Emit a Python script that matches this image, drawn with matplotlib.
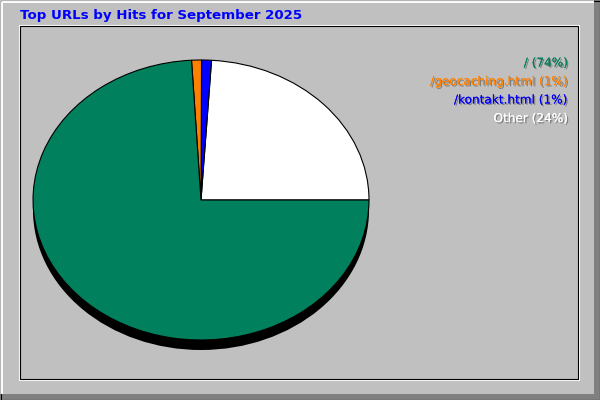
import matplotlib
matplotlib.use("Agg")
import matplotlib.pyplot as plt
import matplotlib.patheffects as pe
from matplotlib.patches import Rectangle, Ellipse

# data
urls = ["/", "/geocaching.html", "/kontakt.html", "Other"]
percents = [74.1, 0.95, 0.95, 24.0]
labels = ["/ (74%)", "/geocaching.html (1%)", "/kontakt.html (1%)", "Other (24%)"]
colors = ["#00805c", "#ff8000", "#0000ff", "#ffffff"]
title = "Top URLs by Hits for September 2025"

W, H = 600, 400
fig = plt.figure(figsize=(6, 4), dpi=100)
fig.patch.set_facecolor("#c0c0c0")

# overlay axes in pixel coordinates for frame and text
bg = fig.add_axes([0, 0, 1, 1])
bg.set_xlim(0, W)
bg.set_ylim(H, 0)
bg.axis("off")

def box(x0, y0, x1, y1, color, lw=1.0):
    bg.add_patch(Rectangle((x0, y0), x1 - x0, y1 - y0, fill=False,
                           edgecolor=color, linewidth=lw))

# outer bevel
bg.add_patch(Rectangle((0, 393.5), W, 6.5, color="#808080", lw=0))
bg.add_patch(Rectangle((593.5, 0), 6.5, H, color="#808080", lw=0))
bg.plot([1.5, 1.5, 593], [393, 1.5, 1.5], color="white", lw=1.4)
box(0.5, 0.5, 599.5, 399.5, "black", 0.8)
# sunken inner panel
box(18.5, 24.5, 578.5, 379.5, "white", 0.8)
box(19.5, 25.5, 577.5, 378.5, "black", 0.8)

bg.text(20, 15, title, color="#0000ff", fontsize=9.6, fontweight="bold",
        family="DejaVu Sans", ha="left", va="center")

# shadow under the pie
cx, cy, rx, ry = 201, 200, 168, 140
bg.add_patch(Ellipse((cx, cy + 10), 2 * rx, 2 * ry, color="black", lw=0))

for i, lab in enumerate(labels):
    bg.text(568, 63 + i * 18.5, lab, color=colors[i], fontsize=8.7,
            family="DejaVu Sans", ha="right", va="center",
            path_effects=[pe.withSimplePatchShadow(offset=(1, -1),
                                                   shadow_rgbFace="black",
                                                   alpha=0.35),
                          pe.Normal()])

# pie axes stretched to the ellipse
ax = fig.add_axes([(cx - rx) / W, (H - cy - ry) / H, 2 * rx / W, 2 * ry / H])
order = [3, 2, 1, 0]
ax.pie([percents[k] for k in order], colors=[colors[k] for k in order],
       startangle=0, counterclock=True, radius=1,
       wedgeprops=dict(edgecolor="black", linewidth=0.8))
ax.set_aspect("auto")
ax.set_xlim(-1, 1)
ax.set_ylim(-1, 1)
ax.axis("off")

fig.savefig("out.png", dpi=100, facecolor=fig.get_facecolor())
